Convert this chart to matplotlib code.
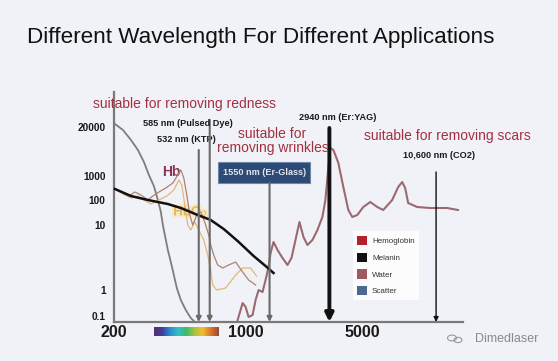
import matplotlib.pyplot as plt
import numpy as np
from matplotlib.colors import LinearSegmentedColormap
from matplotlib.patches import Patch, FancyBboxPatch, Circle
import matplotlib.patheffects as pe

plt.rcParams["font.family"] = ["Liberation Sans", "DejaVu Sans"]

# chart positions (x to the right, y downward, in px)
x_ticks = [113, 245, 362]
x_labels = ["200", "1000", "5000"]
y_ticks = [127, 176, 200, 225, 290, 316]
y_labels = ["20000", "1000", "100", "10", "1", "0.1"]

scatter_x = [114, 122, 130, 137, 143, 148, 153, 157, 160, 162, 164, 167, 170, 173, 176, 180, 185, 190, 194]
scatter_y = [124, 130, 140, 150, 162, 175, 186, 200, 212, 225, 235, 250, 262, 275, 288, 300, 310, 318, 322]

melanin_x = [114, 130, 147, 167, 180, 197, 210, 223, 237, 253, 265, 273]
melanin_y = [189, 196, 200, 204, 208, 215, 220, 229, 241, 256, 266, 273]

hb_x = [114, 120, 128, 134, 140, 147, 152, 158, 165, 172, 177, 180, 183, 186, 189, 192, 196, 200,
        204, 208, 210, 213, 217, 222, 228, 235, 242, 248, 255]
hb_y = [189, 192, 196, 192, 195, 200, 196, 192, 188, 183, 175, 170, 178, 195, 215, 225, 215, 212,
        222, 235, 245, 255, 265, 268, 265, 262, 272, 280, 285]

hbo2_x = [114, 122, 130, 137, 143, 150, 158, 166, 173, 178, 181, 184, 187, 190, 194, 198, 203,
          207, 210, 212, 216, 225, 235, 242, 250, 256]
hbo2_y = [189, 194, 198, 196, 200, 204, 200, 196, 190, 180, 185, 205, 225, 230, 222, 230, 240,
          255, 270, 285, 290, 288, 275, 268, 268, 276]

water_x = [237, 242, 245, 248, 252, 255, 258, 262, 265, 268, 270, 273, 277, 282, 287, 291, 295,
           299, 303, 307, 312, 317, 322, 325, 328, 330, 333, 338, 343, 348, 352, 357, 363, 370,
           377, 383, 392, 398, 402, 405, 408, 417, 430, 447, 458]
water_y = [320, 303, 307, 317, 315, 300, 290, 292, 280, 267, 253, 242, 250, 258, 265, 258, 240,
           222, 237, 245, 240, 230, 217, 200, 167, 148, 150, 163, 187, 210, 217, 215, 207, 202,
           207, 210, 200, 187, 182, 188, 203, 207, 208, 208, 210]

# laser lines: x position, top of line, label, label position
laser_x = [198, 209, 269, 329, 436]
laser_top = [150, 120, 183, 128, 172]
laser_names = ["532 nm (KTP)", "585 nm (Pulsed Dye)", "1550 nm (Er-Glass)",
               "2940 nm (Er:YAG)", "10,600 nm (CO2)"]
laser_label_x = [186, 187, 263, 337, 439]
laser_label_y = [140, 124, 172, 118, 156]

uses = ["suitable for removing redness", "suitable for\nremoving wrinkles", "suitable for removing scars"]
uses_x = [184, 272, 447]
uses_y = [104, 141, 136]

legend_names = ["Hemoglobin", "Melanin", "Water", "Scatter"]
legend_colors = ["#b3222c", "#111111", "#a05a62", "#4b6890"]

bg = "#f1f2f7"
red_text = "#a3303f"

fig = plt.figure(figsize=(5.58, 3.61), dpi=100, facecolor=bg)
W, H = 558, 361
ax = fig.add_axes([114 / W, 1 - 322 / H, (463 - 114) / W, (322 - 92) / H])
ax.set_facecolor("none")
ax.set_xlim(114, 463)
ax.set_ylim(322, 92)
for s in ["top", "right"]:
    ax.spines[s].set_visible(False)
for s in ["left", "bottom"]:
    ax.spines[s].set_color("#7a7a7a")
    ax.spines[s].set_linewidth(1.6)

ax.set_xticks(x_ticks, x_labels, fontsize=11.5, fontweight="bold", color="#1a1a1a")
ax.set_yticks(y_ticks, y_labels, fontsize=7.3, fontweight="bold", color="#1a1a1a")
ax.tick_params(axis="both", length=0)
ax.tick_params(axis="y", pad=6)
ax.tick_params(axis="x", pad=2)

ax.text(170, 172, "Hb", color="#8a3355", fontsize=10, fontweight="bold", ha="center",
        va="center", zorder=1)
ax.text(190, 212, "HbO$_2$", color="#e6b560", fontsize=9.5, fontweight="bold", ha="center",
        va="center", zorder=1, path_effects=[pe.withStroke(linewidth=3, foreground="#f8e8c4")])

ax.plot(scatter_x, scatter_y, color="#7d7d7d", lw=1.3, clip_on=False, zorder=2)
ax.plot(hbo2_x, hbo2_y, color="#e2b878", lw=0.9, clip_on=False, zorder=2)
ax.plot(hb_x, hb_y, color="#b08070", lw=0.9, clip_on=False, zorder=2)
ax.plot(melanin_x, melanin_y, color="#111111", lw=1.8, clip_on=False, zorder=3)
ax.plot(water_x, water_y, color="#9a6a70", lw=1.5, clip_on=False, zorder=2)

for i, x in enumerate(laser_x):
    thick = i == 3
    col = "#111111" if i >= 3 else "#6a6a6a"
    lw = 2.8 if thick else (1.0 if i == 4 else 1.5)
    ax.annotate("", xy=(x, 322), xytext=(x, laser_top[i]),
                arrowprops=dict(arrowstyle="-|>", color=col, lw=lw,
                                mutation_scale=12 if thick else 7, shrinkA=0, shrinkB=0),
                annotation_clip=False)
    if i == 2:
        continue
    ax.text(laser_label_x[i], laser_label_y[i], laser_names[i], fontsize=6.6, fontweight="bold",
            color="#1a1a1a", ha="center", va="center")

# Er-Glass label box
box = FancyBboxPatch((217, 162), 93, 21, boxstyle="square,pad=0", facecolor="#2c4a74",
                     edgecolor="#6a86aa", lw=0.8, transform=ax.transData, clip_on=False)
ax.add_patch(box)
ax.text(263.5, 172.5, laser_names[2], fontsize=6.6, fontweight="bold", color="#dfe6f0",
        ha="center", va="center")

for t, x, y in zip(uses, uses_x, uses_y):
    ax.text(x, y, t, color=red_text, fontsize=10, ha="center", va="center", linespacing=0.95)

handles = [Patch(facecolor=c, edgecolor="none") for c in legend_colors]
leg = ax.legend(handles, legend_names, loc="upper left", bbox_to_anchor=(0.672, 0.412),
                fontsize=5.8, frameon=True, fancybox=False, handlelength=1.2, handleheight=1.4,
                labelspacing=0.9, borderpad=0.6, handletextpad=0.6)
leg.get_frame().set_facecolor("white")
leg.get_frame().set_edgecolor("none")
for t in leg.get_texts():
    t.set_color("#333333")

# visible spectrum strip under the axis
spec = LinearSegmentedColormap.from_list(
    "spec", ["#5b2b6e", "#3c3f9c", "#2a8fd0", "#35c0c0", "#3eb86a", "#a8c440", "#f0c02a",
             "#d8772e", "#9a4a2c"])
cax = fig.add_axes([154 / W, 1 - 336 / H, (219 - 154) / W, 9 / H])
cax.imshow(np.linspace(0, 1, 200)[None, :], cmap=spec, aspect="auto")
cax.axis("off")

fig.text(261 / W, 1 - 37 / H, "Different Wavelength For Different Applications", fontsize=16.2,
         ha="center", va="center", color="#111111")

# watermark
fig.text(507 / W, 1 - 339 / H, "Dimedlaser", fontsize=9, ha="center", va="center",
         color="#8a8a8a")
fig.patches.append(Circle((452 / W, 1 - 338 / H), 4.5 / W, transform=fig.transFigure,
                          fill=False, edgecolor="#9a9a9a", lw=0.8))
fig.patches.append(Circle((458 / W, 1 - 340 / H), 4 / W, transform=fig.transFigure,
                          fill=False, edgecolor="#9a9a9a", lw=0.8))

fig.savefig("out.png", dpi=100, facecolor=bg)
